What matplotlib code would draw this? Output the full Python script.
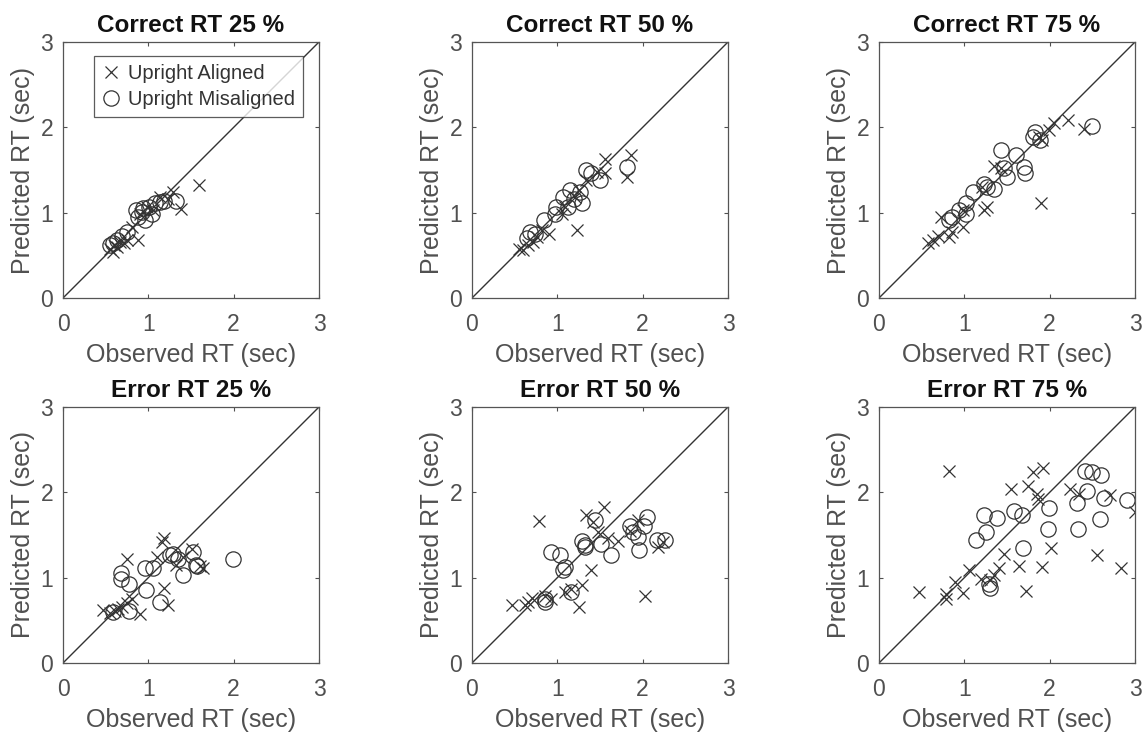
import matplotlib
matplotlib.use("Agg")
import matplotlib.pyplot as plt

plt.rcParams['font.family'] = ['Liberation Sans', 'DejaVu Sans']

titles = ["Correct RT 25 %", "Correct RT 50 %", "Correct RT 75 %",
          "Error RT 25 %", "Error RT 50 %", "Error RT 75 %"]
series_labels = ["Upright Aligned", "Upright Misaligned"]
ticks = [0, 1, 2, 3]

# Correct RT 25 %
c25_aligned_obs = [1.59, 1.38, 0.88, 1.29, 1.23, 0.55, 0.59, 0.63, 0.75, 0.81, 0.90, 0.98, 1.14, 1.06, 0.71, 0.60, 0.67]
c25_aligned_pred = [1.32, 1.04, 0.68, 1.24, 1.16, 0.58, 0.54, 0.60, 0.68, 0.83, 0.99, 1.07, 1.18, 1.03, 0.64, 0.62, 0.66]
c25_mis_obs = [1.33, 0.59, 0.69, 0.75, 0.88, 0.92, 0.96, 1.01, 1.08, 1.14, 1.18, 0.94, 0.86, 0.63, 0.55, 1.04]
c25_mis_pred = [1.14, 0.64, 0.73, 0.77, 0.95, 1.01, 0.91, 1.07, 1.11, 1.13, 1.14, 1.05, 1.03, 0.68, 0.62, 0.99]

# Correct RT 50 %
c50_aligned_obs = [1.23, 1.56, 1.86, 1.82, 1.56, 0.90, 0.55, 0.60, 0.66, 0.72, 0.76, 1.46, 1.09, 1.21, 1.25, 1.34, 1.05, 0.82]
c50_aligned_pred = [0.80, 1.63, 1.67, 1.42, 1.46, 0.75, 0.58, 0.56, 0.62, 0.66, 0.71, 1.48, 1.07, 1.18, 1.26, 1.38, 0.99, 0.80]
c50_mis_obs = [1.82, 1.34, 1.50, 1.15, 1.27, 1.07, 1.19, 0.99, 0.97, 0.84, 0.68, 0.74, 0.64, 1.29, 1.13, 1.40]
c50_mis_pred = [1.54, 1.50, 1.38, 1.26, 1.24, 1.18, 1.16, 1.07, 0.99, 0.91, 0.77, 0.75, 0.70, 1.11, 1.07, 1.46]

# Correct RT 75 %
c75_aligned_obs = [1.90, 2.22, 2.40, 2.05, 1.99, 0.57, 0.63, 0.69, 0.73, 0.82, 0.86, 0.99, 1.23, 1.27, 1.35, 1.43, 1.87, 1.91, 1.21, 0.98]
c75_aligned_pred = [1.11, 2.09, 1.98, 2.05, 1.97, 0.64, 0.68, 0.73, 0.95, 0.71, 0.77, 0.83, 1.03, 1.07, 1.55, 1.52, 1.89, 1.85, 1.30, 1.03]
c75_mis_obs = [2.50, 1.83, 1.80, 1.43, 1.60, 1.46, 1.71, 1.10, 1.23, 1.27, 1.35, 0.86, 0.94, 1.02, 0.82, 1.50, 1.70, 1.89, 1.02]
c75_mis_pred = [2.01, 1.95, 1.89, 1.73, 1.67, 1.52, 1.46, 1.24, 1.34, 1.30, 1.28, 0.95, 1.03, 0.99, 0.91, 1.42, 1.54, 1.85, 1.11]

# Error RT 25 %
e25_aligned_obs = [0.75, 0.47, 0.55, 0.61, 0.65, 0.69, 0.75, 0.81, 0.90, 1.18, 1.16, 1.18, 1.23, 1.10, 1.33, 1.51, 1.64, 1.41, 1.60]
e25_aligned_pred = [1.22, 0.62, 0.59, 0.61, 0.63, 0.66, 0.70, 0.75, 0.58, 1.46, 1.42, 0.88, 0.68, 1.24, 1.15, 1.34, 1.11, 1.24, 1.14]
e25_mis_obs = [0.68, 0.68, 0.77, 0.77, 0.96, 1.06, 0.97, 1.14, 1.25, 1.29, 1.35, 1.41, 1.52, 1.56, 1.57, 1.99, 0.59]
e25_mis_pred = [1.05, 0.99, 0.93, 0.61, 1.11, 1.11, 0.85, 0.71, 1.26, 1.28, 1.22, 1.03, 1.30, 1.15, 1.14, 1.22, 0.60]

# Error RT 50 %
e50_aligned_obs = [0.79, 0.47, 0.62, 0.66, 0.70, 0.86, 0.92, 1.09, 1.16, 1.25, 1.29, 1.40, 1.34, 1.55, 1.42, 1.48, 1.59, 1.71, 2.03, 1.95, 1.85, 2.18, 2.24]
e50_aligned_pred = [1.66, 0.68, 0.68, 0.71, 0.76, 0.79, 0.75, 0.83, 0.87, 0.66, 0.91, 1.09, 1.73, 1.83, 1.65, 1.54, 1.46, 1.43, 0.79, 1.67, 1.55, 1.36, 1.42]
e50_mis_obs = [0.92, 1.03, 1.07, 1.09, 1.16, 0.85, 0.85, 1.29, 1.32, 1.33, 1.44, 1.51, 1.63, 1.85, 1.89, 1.95, 1.96, 2.05, 2.01, 2.17, 2.26]
e50_mis_pred = [1.30, 1.26, 1.09, 1.13, 0.83, 0.75, 0.71, 1.43, 1.38, 1.36, 1.67, 1.39, 1.27, 1.61, 1.54, 1.48, 1.33, 1.71, 1.61, 1.44, 1.44]

# Error RT 75 %
e75_aligned_obs = [0.82, 0.47, 0.78, 0.79, 0.89, 0.99, 1.06, 1.19, 1.35, 1.41, 1.47, 1.55, 1.64, 1.72, 1.75, 1.80, 1.92, 1.85, 1.86, 1.91, 2.02, 2.24, 2.34, 2.55, 2.71, 2.84, 3.00, 1.30]
e75_aligned_pred = [2.25, 0.83, 0.81, 0.75, 0.95, 0.82, 1.09, 0.99, 1.03, 1.11, 1.28, 2.04, 1.14, 0.84, 2.07, 2.24, 2.28, 1.98, 1.92, 1.13, 1.35, 2.04, 1.98, 1.26, 1.97, 1.11, 1.77, 0.97]
e75_mis_obs = [1.23, 1.38, 1.14, 1.25, 1.58, 1.67, 1.99, 1.98, 1.69, 1.29, 1.30, 2.32, 2.33, 2.41, 2.50, 2.60, 2.44, 2.64, 2.59, 2.91]
e75_mis_pred = [1.73, 1.70, 1.44, 1.54, 1.78, 1.74, 1.82, 1.57, 1.35, 0.93, 0.88, 1.88, 1.57, 2.25, 2.24, 2.20, 2.02, 1.93, 1.69, 1.91]

panels = [
    (c25_aligned_obs, c25_aligned_pred, c25_mis_obs, c25_mis_pred),
    (c50_aligned_obs, c50_aligned_pred, c50_mis_obs, c50_mis_pred),
    (c75_aligned_obs, c75_aligned_pred, c75_mis_obs, c75_mis_pred),
    (e25_aligned_obs, e25_aligned_pred, e25_mis_obs, e25_mis_pred),
    (e50_aligned_obs, e50_aligned_pred, e50_mis_obs, e50_mis_pred),
    (e75_aligned_obs, e75_aligned_pred, e75_mis_obs, e75_mis_pred),
]

W, H = 1145, 735
fig = plt.figure(figsize=(W / 100, H / 100), dpi=100)

lefts = [63, 472, 879]
tops = [42, 407]
size = 256

labgray = '#505050'
mk = '#333333'

for i, (ao, ap, mo, mp) in enumerate(panels):
    r, c = divmod(i, 3)
    l = lefts[c] / W
    b = (H - tops[r] - size) / H
    ax = fig.add_axes([l, b, size / W, size / H])
    ax.plot([0, 3], [0, 3], color='#333333', lw=1.0, zorder=1)
    h1, = ax.plot(ao, ap, linestyle='none', marker='x', ms=8, mew=0.9,
                  color=mk, zorder=2)
    h2, = ax.plot(mo, mp, linestyle='none', marker='o', ms=11, mew=0.9,
                  mfc='none', mec=mk, zorder=2)
    ax.set_xlim(0, 3)
    ax.set_ylim(0, 3)
    ax.set_xticks(ticks)
    ax.set_yticks(ticks)
    ax.tick_params(direction='in', length=3, width=0.8, colors=labgray,
                   labelsize=16.5, top=True, right=True)
    ax.tick_params(axis='x', pad=11)
    ax.tick_params(axis='y', pad=7)
    for sp in ax.spines.values():
        sp.set_color('#555555')
        sp.set_linewidth(0.9)
    ax.set_xlabel("Observed RT (sec)", fontsize=18, color=labgray, labelpad=5)
    ax.set_ylabel("Predicted RT (sec)", fontsize=18, color=labgray, labelpad=4)
    ax.set_title(titles[i], fontsize=17.5, fontweight='bold', color='#111111', pad=7)
    if i == 0:
        leg = ax.legend([h1, h2], series_labels, loc='upper left',
                        bbox_to_anchor=(0.12, 0.945), fontsize=14.5,
                        frameon=True, fancybox=False, handlelength=0.9,
                        handletextpad=0.4, borderpad=0.4, labelspacing=0.33,
                        borderaxespad=0)
        leg.get_frame().set_edgecolor('#333333')
        leg.get_frame().set_linewidth(0.9)
        for t in leg.get_texts():
            t.set_color('#333333')

fig.savefig("out.png", dpi=100)
